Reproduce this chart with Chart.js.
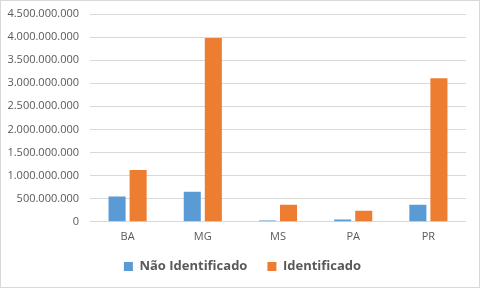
<!DOCTYPE html>
<html>
<head>
<meta charset="utf-8">
<script src="https://cdn.jsdelivr.net/npm/chart.js@4.4.1/dist/chart.umd.min.js"></script>
<style>
  body { margin: 0; background: #fff; }
  #box { width: 478px; height: 286px; border: 1px solid #d9d9d9; }
</style>
</head>
<body>
<div id="box"><canvas id="barChart" width="478" height="286"></canvas></div>
<script>
let states = ["BA", "MG", "MS", "PA", "PR"];
let naoIdentificado = [550000000, 650000000, 30000000, 50000000, 370000000];
let identificado = [1120000000, 3980000000, 370000000, 240000000, 3110000000];

// 4500000000 -> 4.500.000.000
function fmt(v) {
  return String(v).replace(/\B(?=(\d{3})+(?!\d))/g, ".");
}

Chart.defaults.font.family = "'Open Sans', sans-serif";
Chart.defaults.color = "#595959";

let chart = new Chart(document.getElementById("barChart"), {
  type: "bar",
  data: {
    labels: states,
    datasets: [{
      label: "Não Identificado",
      data: naoIdentificado,
      backgroundColor: "#5B9BD5"
    }, {
      label: "Identificado",
      data: identificado,
      backgroundColor: "#ED7D31"
    }]
  },
  options: {
    responsive: false,
    animation: false,
    categoryPercentage: 0.56,
    barPercentage: 0.81,
    layout: { padding: { top: 13, right: 0, left: 5, bottom: 4 } },
    plugins: {
      tooltip: { enabled: false },
      legend: {
        position: "bottom",
        labels: {
          boxWidth: 9,
          boxHeight: 9,
          padding: 20,
          color: "#595959",
          font: { size: 13, weight: "bold" }
        }
      }
    },
    scales: {
      x: {
        grid: { display: false },
        border: { display: false },
        ticks: { font: { size: 11 }, padding: 0 }
      },
      y: {
        min: 0,
        max: 4500000000,
        afterFit: function (scale) {
          scale.width = 84;
          scale.paddingTop = 0;
          scale.paddingBottom = 0;
        },
        grid: { color: "#d9d9d9", drawTicks: false },
        border: { display: false },
        ticks: {
          stepSize: 500000000,
          padding: 11,
          font: { size: 11 },
          callback: function (v) { return fmt(v); }
        }
      },
      // empty right axis, only keeps room on the right side
      y2: {
        position: "right",
        grid: { display: false },
        border: { display: false },
        ticks: { display: false },
        afterFit: function (scale) {
          scale.width = 13;
          scale.paddingTop = 0;
          scale.paddingBottom = 0;
        }
      }
    }
  }
});

// legend padding 20 gives the right gap between items, but too much room above them
let legendFit = chart.legend.fit;
chart.legend.fit = function () {
  legendFit.call(this);
  this.height -= 3;
};
let legendDraw = chart.legend.draw;
chart.legend.draw = function () {
  this.top -= 3;
  legendDraw.call(this);
  this.top += 3;
};
chart.update();
</script>
</body>
</html>
